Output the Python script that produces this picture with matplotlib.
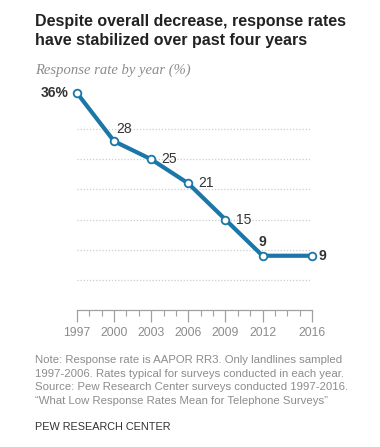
import matplotlib
matplotlib.use("Agg")
import matplotlib.pyplot as plt
from matplotlib.ticker import FixedLocator, MultipleLocator

years = [1997, 2000, 2003, 2006, 2009, 2012, 2016]
rates = [36, 28, 25, 21, 15, 9, 9]
labels = ["36%", "28", "25", "21", "15", "9", "9"]
bold = [True, False, False, False, False, True, True]
# where each value label sits relative to its point
label_pos = ["left", "upright", "right", "right", "right", "above", "rightnear"]
grid_values = [5, 10, 15, 20, 25, 30]
tick_years = [1997, 2000, 2003, 2006, 2009, 2012, 2016]

title = "Despite overall decrease, response rates\nhave stabilized over past four years"
subtitle = "Response rate by year (%)"
notes = ("Note: Response rate is AAPOR RR3. Only landlines sampled\n"
         "1997-2006. Rates typical for surveys conducted in each year.\n"
         "Source: Pew Research Center surveys conducted 1997-2016.\n"
         "\u201cWhat Low Response Rates Mean for Telephone Surveys\u201d")
credit = "PEW RESEARCH CENTER"

blue = "#1a77a8"
grey = "#8c8c8c"

plt.rcParams["font.family"] = ["Liberation Sans", "DejaVu Sans"]

W, H = 380, 447
fig = plt.figure(figsize=(W / 100, H / 100), dpi=100)
ax = fig.add_axes([77 / W, (H - 310) / H, 235 / W, 217 / H])

ax.set_xlim(1997, 2016)
ax.set_ylim(0, 36)

for v in grid_values:
    ax.plot([1997, 2015.85], [v, v], color="#cccccc", lw=0.9, ls=(0, (1, 1.5)), zorder=1)

ax.plot(years, rates, color=blue, lw=3, zorder=3, clip_on=False,
        marker="o", markersize=5.5, markerfacecolor="white",
        markeredgecolor=blue, markeredgewidth=1.3)

offsets = {"left": (-6, 0, "right", "center"),
           "right": (7.5, 0, "left", "center"),
           "rightnear": (5, 0, "left", "center"),
           "upright": (1.5, 4, "left", "bottom"),
           "above": (0, 5, "center", "bottom")}
for x, y, t, b, p in zip(years, rates, labels, bold, label_pos):
    dx, dy, ha, va = offsets[p]
    ax.annotate(t, (x, y), xytext=(dx, dy), textcoords="offset points",
                ha=ha, va=va, fontsize=10, color="#333333",
                fontweight="bold" if b else "normal")

for side in ["top", "right", "left"]:
    ax.spines[side].set_visible(False)
ax.spines["bottom"].set_color("#a0a0a0")
ax.spines["bottom"].set_linewidth(0.9)
ax.set_yticks([])

ax.xaxis.set_major_locator(FixedLocator(tick_years))
ax.xaxis.set_minor_locator(MultipleLocator(1))
ax.set_xticklabels([str(y) for y in tick_years])
ax.tick_params(axis="x", which="major", length=8.5, width=0.9, color="#a0a0a0",
               labelsize=8.8, labelcolor=grey, pad=3.5)
ax.tick_params(axis="x", which="minor", length=4, width=0.8, color="#a0a0a0")

fig.text(35 / W, 1 - 14 / H, title, ha="left", va="top", fontsize=11.5,
         fontweight="bold", color="#222222", linespacing=1.35)
fig.text(35 / W, 1 - 70 / H, subtitle, ha="left", va="center", fontsize=10.5,
         family=["Liberation Serif", "DejaVu Serif"], style="italic", color=grey)
fig.text(35 / W, 1 - 355 / H, notes, ha="left", va="top", fontsize=8.2,
         color=grey, linespacing=1.45)
fig.text(35 / W, 1 - 427 / H, credit, ha="left", va="center", fontsize=7.8,
         color="#333333")

fig.savefig("out.png", dpi=100)
